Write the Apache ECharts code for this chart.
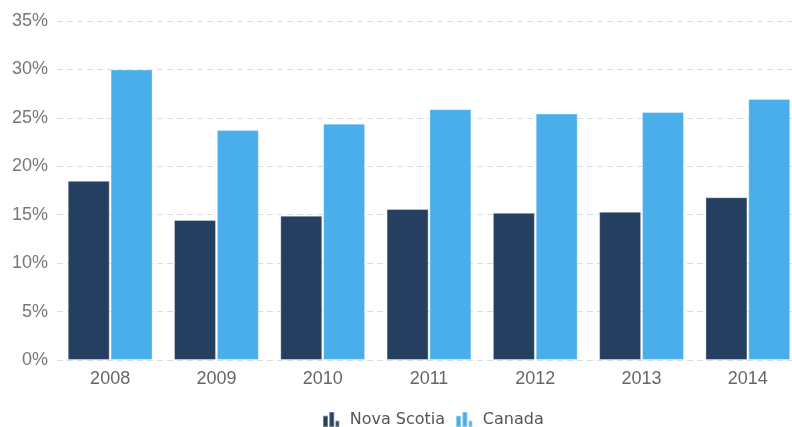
<!DOCTYPE html>
<html>
<head>
<meta charset="utf-8">
<script src="https://cdn.jsdelivr.net/npm/echarts@6/dist/echarts.min.js"></script>
<style>
html,body{margin:0;padding:0;background:#fff;}
#chart{width:792px;height:427px;}
</style>
</head>
<body>
<div id="chart"></div>
<script>
var categories = ['2008','2009','2010','2011','2012','2013','2014'];
var novaScotia = [18.5, 14.45, 14.9, 15.6, 15.2, 15.3, 16.8];
var canada = [30.0, 23.75, 24.4, 25.9, 25.45, 25.6, 26.95];
var yTicks = [0, 5, 10, 15, 20, 25, 30, 35];

var barIcon = 'path://M0,3 L4,3 L4,12 L0,12 Z M5,0 L9,0 L9,12 L5,12 Z M10,7 L13,7 L13,12 L10,12 Z';

var chart = echarts.init(document.getElementById('chart'), null, {renderer:'canvas'});
chart.setOption({
  animation:false,
  grid:{left:57, width:744, top:21, height:339, containLabel:false, outerBoundsMode:'none'},
  legend:{
    left:317, top:406,
    itemWidth:17, itemHeight:15, itemGap:10,
    formatter:' {name}',
    textStyle:{color:'#555', fontSize:16, fontFamily:'DejaVu Sans'},
    data:[{name:'Nova Scotia', icon:barIcon},{name:'Canada', icon:barIcon}]
  },
  xAxis:{
    type:'category', data:categories,
    axisLine:{show:false}, axisTick:{show:false},
    axisLabel:{color:'#666', fontSize:18, fontFamily:'Liberation Sans', margin:10}
  },
  yAxis:{
    type:'value', min:yTicks[0], max:yTicks[yTicks.length-1], interval:5,
    axisLine:{show:false}, axisTick:{show:false},
    axisLabel:{color:'#777', fontSize:18, fontFamily:'Liberation Sans', margin:9, formatter:'{value}%'},
    splitLine:{show:true, lineStyle:{color:'#dcdcdc', type:[6,4], width:1}}
  },
  series:[
    {name:'Nova Scotia', type:'bar', data:novaScotia, barWidth:42, barGap:'2%',
     itemStyle:{color:'#243f5f', borderColor:'rgba(255,255,255,0.35)', borderWidth:1}},
    {name:'Canada', type:'bar', data:canada, barWidth:42, barGap:'2%',
     itemStyle:{color:'#4aaeea', borderColor:'rgba(255,255,255,0.35)', borderWidth:1}}
  ]
});
</script>
</body>
</html>
